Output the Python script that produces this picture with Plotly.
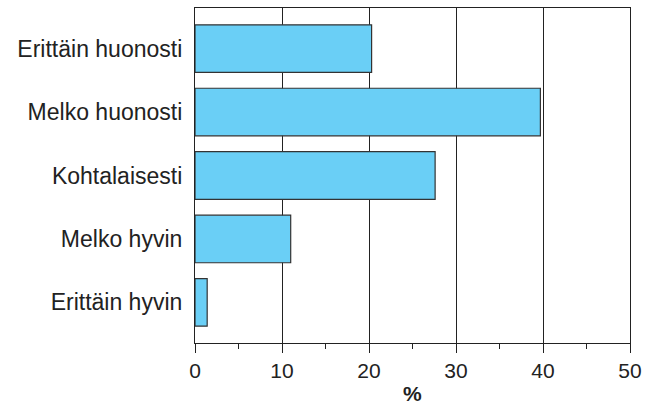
import plotly.graph_objects as go

categories = ["Erittäin huonosti", "Melko huonosti", "Kohtalaisesti", "Melko hyvin", "Erittäin hyvin"]
values = [20.3, 39.7, 27.6, 11.0, 1.4]
x_ticks = [0, 10, 20, 30, 40, 50]
x_title = "%"

fig = go.Figure(go.Bar(
    y=categories, x=values, orientation="h",
    marker=dict(color="#6ACFF6", line=dict(color="#333333", width=1.2)),
    width=0.75,
))
fig.update_layout(
    width=655, height=407,
    margin=dict(l=195, r=25, t=8, b=64),
    paper_bgcolor="white", plot_bgcolor="white",
    font=dict(family="Liberation Sans, Arial, sans-serif", size=23, color="#222222"),
    showlegend=False,
    bargap=0.25,
)
fig.update_xaxes(
    range=[0, 50], tickvals=x_ticks, ticks="outside", ticklen=9, tickwidth=1, tickcolor="#222222",
    tickfont=dict(size=21), automargin=False,
    showgrid=True, gridcolor="#222222", gridwidth=1,
    showline=True, linecolor="#222222", linewidth=1.2, mirror=True,
    zeroline=False,
    minor=dict(dtick=5, ticks="outside", ticklen=5, tickcolor="#222222", showgrid=False),
)
fig.update_yaxes(
    categoryorder="array", categoryarray=categories, autorange=False, range=[4.64, -0.64],
    showline=True, linecolor="#222222", linewidth=1.2, mirror=True, automargin=False,
    showgrid=False, ticks="", ticklabelstandoff=7, tickfont=dict(size=23),
)
fig.add_annotation(
    text="<b>" + x_title + "</b>", xref="paper", yref="paper", x=0.5, y=-0.152,
    xanchor="center", yanchor="middle", showarrow=False, font=dict(size=21),
)
fig.write_html("out.html", config={"displayModeBar": False},
               post_script="document.body.style.margin='0';")
